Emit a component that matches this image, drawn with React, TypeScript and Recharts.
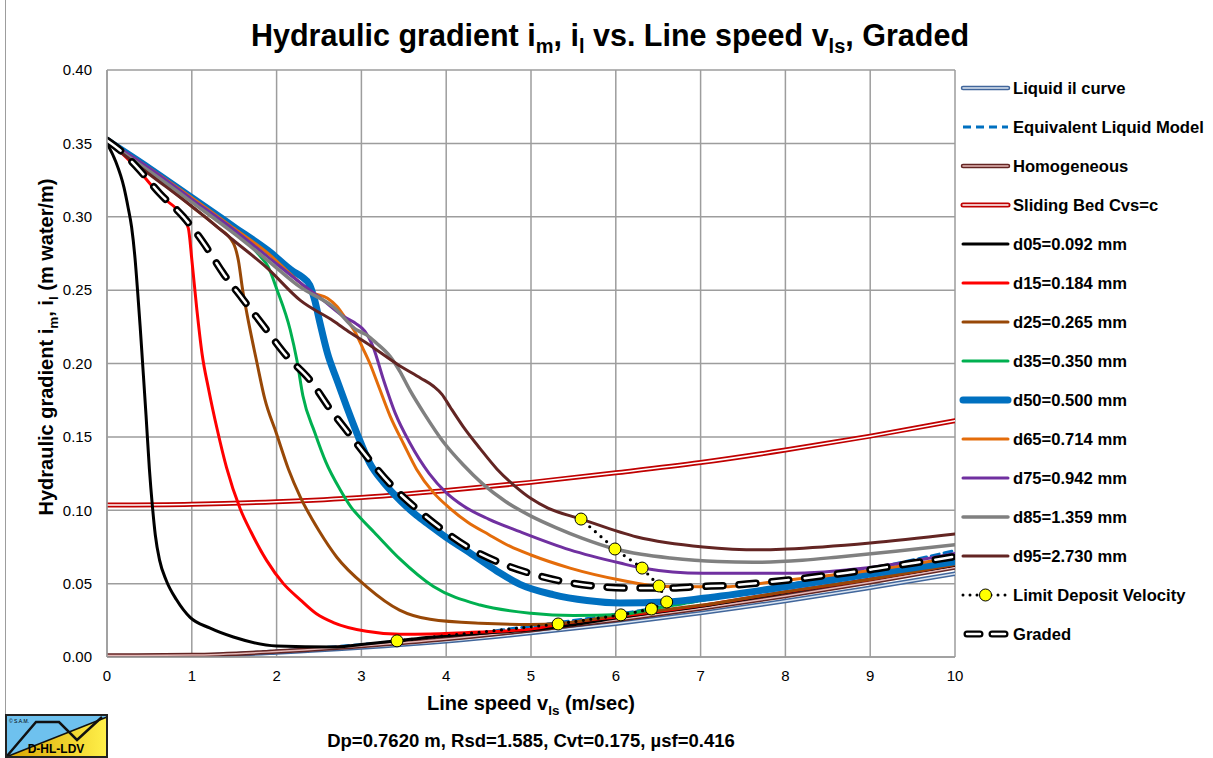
import React from 'react';
import { LineChart, Line, XAxis, YAxis, CartesianGrid } from 'recharts';

type P = [number, number];

const xTicks = [0, 1, 2, 3, 4, 5, 6, 7, 8, 9, 10];
const yTicks = [0, 0.05, 0.1, 0.15, 0.2, 0.25, 0.3, 0.35, 0.4];

const liquid: P[] = [[0,0.0005],[1,0.0009],[2,0.0031],[3,0.0065],[4,0.0108],[5,0.0163],[6,0.0227],[7,0.0299],[8,0.0381],[9,0.0472],[10,0.0567]];
const elm: P[] = [[0,0.0006],[1,0.0012],[2,0.0041],[3,0.0085],[4,0.0138],[5,0.021],[6,0.029],[7,0.0384],[8,0.0488],[9,0.060],[10,0.0725]];
const homogeneous: P[] = [[0,0.001],[1,0.0013],[2,0.0037],[3,0.0075],[4,0.0122],[5,0.0183],[6,0.0252],[7,0.033],[8,0.0415],[9,0.051],[10,0.061]];
const slidingBed: P[] = [[0,0.1035],[1,0.1041],[2,0.1058],[3,0.1087],[4,0.1135],[5,0.119],[6,0.1255],[7,0.1325],[8,0.141],[9,0.1505],[10,0.161]];

const d05: P[] = [[0,0.35],[0.1,0.338],[0.2,0.32],[0.25,0.306],[0.29,0.293],[0.33,0.272],[0.36,0.25],[0.39,0.226],[0.42,0.2],[0.46,0.165],[0.5,0.128],[0.535,0.103],[0.57,0.083],[0.62,0.066],[0.7,0.052],[0.82,0.039],[0.98,0.027],[1.21,0.0198],[1.49,0.0136],[2.0,0.0075],[2.67,0.0068],[3.0,0.0085],[3.42,0.011],[3.81,0.0135],[4.4,0.016],[5.0,0.0185],[5.5,0.022],[6.06,0.027],[7,0.0345],[8,0.044],[9,0.053],[10,0.0625]];
const d15: P[] = [[0,0.351],[0.15,0.3445],[0.35,0.333],[0.62,0.315],[0.9,0.299],[0.96,0.292],[1.0,0.271],[1.06,0.2365],[1.12,0.207],[1.2,0.182],[1.3,0.155],[1.41,0.129],[1.57,0.101],[1.7,0.085],[1.88,0.066],[2.08,0.05],[2.28,0.039],[2.47,0.0295],[2.67,0.0235],[3.06,0.0175],[3.45,0.0155],[3.81,0.0157],[4.4,0.017],[5.0,0.019],[5.32,0.0222],[6.06,0.0278],[7,0.035],[8,0.0445],[9,0.053],[10,0.063]];
const d25: P[] = [[0,0.351],[0.5,0.33],[1.0,0.307],[1.3,0.293],[1.49,0.282],[1.55,0.27],[1.6,0.25],[1.65,0.234],[1.77,0.2],[1.86,0.176],[2.0,0.152],[2.14,0.128],[2.28,0.109],[2.5,0.086],[2.71,0.068],[3.06,0.048],[3.45,0.032],[3.81,0.0257],[4.4,0.023],[5.0,0.0222],[5.32,0.0228],[6.06,0.0287],[7,0.0352],[8,0.0445],[9,0.053],[10,0.063]];
const d35: P[] = [[0,0.352],[0.5,0.332],[1.0,0.312],[1.5,0.291],[1.8,0.2735],[1.9,0.266],[2.0,0.251],[2.16,0.223],[2.24,0.202],[2.31,0.178],[2.45,0.153],[2.58,0.133],[2.75,0.114],[2.88,0.102],[3.0,0.094],[3.15,0.085],[3.45,0.067],[3.85,0.048],[4.4,0.0354],[5.0,0.0298],[5.5,0.0283],[6.07,0.029],[6.42,0.0327],[7,0.0385],[8,0.047],[9,0.0565],[10,0.065]];
const d50: P[] = [[0,0.352],[0.5,0.333],[1.0,0.313],[1.5,0.293],[1.9,0.277],[2.2,0.2625],[2.3,0.259],[2.39,0.2535],[2.45,0.243],[2.51,0.228],[2.6,0.207],[2.71,0.189],[2.83,0.17],[2.95,0.152],[3.1,0.132],[3.26,0.119],[3.4,0.11],[3.65,0.0965],[3.8,0.09],[4.0,0.0815],[4.24,0.0725],[4.6,0.0585],[4.87,0.0495],[5.26,0.0425],[5.66,0.0385],[6.05,0.0368],[6.6,0.0375],[7.03,0.04],[8.02,0.048],[9.0,0.0565],[10,0.065]];
const d65: P[] = [[0,0.352],[0.5,0.333],[1.0,0.313],[1.5,0.292],[1.9,0.275],[2.2,0.259],[2.43,0.248],[2.6,0.2445],[2.71,0.239],[2.8,0.232],[2.92,0.222],[3.02,0.21],[3.1,0.2],[3.2,0.185],[3.34,0.164],[3.5,0.145],[3.65,0.128],[3.85,0.112],[4.04,0.1015],[4.25,0.092],[4.5,0.0835],[4.75,0.0755],[5.0,0.0695],[5.46,0.0606],[6.05,0.0525],[6.56,0.048],[7.23,0.0478],[8.02,0.0525],[9.0,0.059],[10,0.068]];
const d75: P[] = [[0,0.352],[0.5,0.333],[1.0,0.312],[1.5,0.291],[1.89,0.273],[2.28,0.255],[2.55,0.243],[2.79,0.232],[2.94,0.227],[3.04,0.222],[3.14,0.211],[3.26,0.189],[3.4,0.166],[3.57,0.146],[3.8,0.125],[4.0,0.112],[4.2,0.103],[4.5,0.094],[4.87,0.0854],[5.46,0.073],[6.05,0.064],[6.31,0.0606],[7.03,0.057],[8.02,0.057],[9.0,0.061],[10,0.0705]];
const d85: P[] = [[0,0.351],[0.5,0.331],[1.0,0.31],[1.49,0.289],[1.89,0.2705],[2.28,0.252],[2.67,0.2385],[2.94,0.223],[3.06,0.2195],[3.18,0.2138],[3.34,0.2047],[3.45,0.195],[3.57,0.182],[3.75,0.165],[3.96,0.147],[4.2,0.131],[4.43,0.118],[4.7,0.106],[5.0,0.096],[5.3,0.088],[5.6,0.081],[5.99,0.0736],[6.3,0.07],[6.64,0.0675],[7.2,0.065],[7.62,0.0645],[8.2,0.066],[8.6,0.068],[9.3,0.072],[10,0.0765]];
const d95: P[] = [[0,0.351],[0.5,0.329],[1.1,0.3025],[1.49,0.284],[1.89,0.265],[2.28,0.243],[2.67,0.229],[2.87,0.221],[3.06,0.214],[3.45,0.1985],[3.7,0.19],[3.85,0.1845],[3.95,0.179],[4.05,0.17],[4.2,0.157],[4.4,0.142],[4.6,0.128],[4.8,0.117],[5.0,0.108],[5.2,0.1015],[5.59,0.094],[6.25,0.0818],[7.03,0.075],[7.7,0.073],[8.02,0.0736],[9.0,0.0777],[10,0.0838]];
const ldv: P[] = [[3.42,0.011],[5.32,0.0225],[6.06,0.0287],[6.42,0.0327],[6.6,0.0375],[6.51,0.0484],[6.31,0.0606],[5.99,0.0736],[5.59,0.094]];
const graded: P[] = [[0,0.352],[0.15,0.3455],[0.35,0.334],[0.62,0.316],[0.9,0.3],[1.14,0.282],[1.37,0.2615],[1.6,0.244],[1.84,0.226],[2.12,0.205],[2.39,0.189],[2.63,0.169],[2.87,0.151],[3.1,0.134],[3.37,0.116],[3.65,0.101],[3.96,0.0865],[4.28,0.074],[4.6,0.065],[4.99,0.057],[5.42,0.051],[5.81,0.048],[6.2,0.047],[6.6,0.047],[6.99,0.048],[7.38,0.049],[7.78,0.051],[8.21,0.0536],[8.6,0.0565],[9.0,0.0595],[9.39,0.063],[9.79,0.0665],[10,0.0685]];

const legendLabels = [
  'Liquid il curve', 'Equivalent Liquid Model', 'Homogeneous', 'Sliding Bed Cvs=c',
  'd05=0.092 mm', 'd15=0.184 mm', 'd25=0.265 mm', 'd35=0.350 mm', 'd50=0.500 mm',
  'd65=0.714 mm', 'd75=0.942 mm', 'd85=1.359 mm', 'd95=2.730 mm',
  'Limit Deposit Velocity', 'Graded',
];

const FONT = '"Liberation Sans", Arial, Helvetica, sans-serif';

const pts = (a: P[]) => a.map(([x, y]) => ({ x, y }));

type S = { key: string; data: P[]; stroke: string; w: number; dash?: string; inner?: string; innerW?: number };

const series: S[] = [
  { key: 'liq', data: liquid, stroke: '#41669b', w: 4.5, inner: '#dbe5f1', innerW: 1.5 },
  { key: 'elm', data: elm, stroke: '#0070c0', w: 3, dash: '8 5' },
  { key: 'hom', data: homogeneous, stroke: '#632523', w: 4.5, inner: '#e6b9b8', innerW: 1.5 },
  { key: 'sb', data: slidingBed, stroke: '#c00000', w: 5, inner: '#ffffff', innerW: 1.5 },
  { key: 'd05', data: d05, stroke: '#000000', w: 3 },
  { key: 'd15', data: d15, stroke: '#ff0000', w: 3 },
  { key: 'd25', data: d25, stroke: '#984807', w: 3 },
  { key: 'd35', data: d35, stroke: '#00b050', w: 3 },
  { key: 'd50', data: d50, stroke: '#0070c0', w: 7 },
  { key: 'd65', data: d65, stroke: '#e46c0a', w: 3 },
  { key: 'd75', data: d75, stroke: '#7030a0', w: 3 },
  { key: 'd85', data: d85, stroke: '#808080', w: 3.5 },
  { key: 'd95', data: d95, stroke: '#632523', w: 3 },
];

const LdvDot = (p: any) => (
  <circle key={'ldv' + p.index} cx={p.cx} cy={p.cy} r={6} fill="#ffff00" stroke="#000" strokeWidth={1} />
);

function LegendSample({ i, y }: { i: number; y: number }) {
  const x1 = 963, x2 = 1008;
  if (i < 13) {
    const s = series[i];
    return (
      <g>
        <line x1={x1} y1={y} x2={x2} y2={y} stroke={s.stroke} strokeWidth={s.w} strokeDasharray={s.dash} strokeLinecap={s.dash ? 'butt' : 'round'} />
        {s.inner && <line x1={x1} y1={y} x2={x2} y2={y} stroke={s.inner} strokeWidth={s.innerW} strokeLinecap="round" />}
      </g>
    );
  }
  if (i === 13) {
    return (
      <g>
        <line x1={x1} y1={y} x2={x2} y2={y} stroke="#000" strokeWidth={3} strokeDasharray="0 7" strokeLinecap="round" />
        <circle cx={(x1 + x2) / 2} cy={y} r={6} fill="#ffff00" stroke="#000" strokeWidth={1} />
      </g>
    );
  }
  return (
    <g>
      <line x1={967} y1={y} x2={1005} y2={y} stroke="#000" strokeWidth={7} strokeDasharray="13 12" strokeLinecap="round" />
      <line x1={967} y1={y} x2={1005} y2={y} stroke="#fff" strokeWidth={2.5} strokeDasharray="13 12" strokeLinecap="round" />
    </g>
  );
}

export default function App() {
  return (
    <div style={{ position: 'absolute', left: 0, top: 0, width: 1213, height: 758, background: '#fff', fontFamily: FONT }}>
      <LineChart width={1213} height={758} margin={{ top: 70, right: 258, bottom: 71, left: 0 }}>
        <CartesianGrid stroke="#9d9d9d" strokeWidth={1.5} />
        <XAxis
          dataKey="x"
          type="number"
          domain={[0, 10]}
          ticks={xTicks}
          allowDataOverflow
          height={30}
          tickLine={false}
          tickSize={0}
          tickMargin={13}
          axisLine={{ stroke: '#9d9d9d', strokeWidth: 1.5 }}
          tick={{ fill: '#000', fontSize: 15, fontFamily: FONT }}
        />
        <YAxis
          type="number"
          domain={[0, 0.4]}
          ticks={yTicks}
          allowDataOverflow
          width={107}
          tickLine={false}
          tickSize={0}
          tickMargin={15}
          tickFormatter={(v: number) => v.toFixed(2)}
          axisLine={{ stroke: '#9d9d9d', strokeWidth: 1.5 }}
          tick={{ fill: '#000', fontSize: 15, fontFamily: FONT }}
        />
        {series.flatMap((s) => {
          const out = [
            <Line key={s.key} data={pts(s.data)} dataKey="y" type="monotone" stroke={s.stroke} strokeWidth={s.w}
              strokeDasharray={s.dash} strokeLinecap="round" strokeLinejoin="round" dot={false} activeDot={false} isAnimationActive={false} />,
          ];
          if (s.inner) {
            out.push(
              <Line key={s.key + '-in'} data={pts(s.data)} dataKey="y" type="monotone" stroke={s.inner} strokeWidth={s.innerW}
                strokeLinecap="round" dot={false} activeDot={false} isAnimationActive={false} />
            );
          }
          return out;
        })}
        <Line key="graded-o" data={pts(graded)} dataKey="y" type="monotone" stroke="#000" strokeWidth={7.5}
          strokeDasharray="17 16" strokeLinecap="round" dot={false} activeDot={false} isAnimationActive={false} />
        <Line key="graded-i" data={pts(graded)} dataKey="y" type="monotone" stroke="#fff" strokeWidth={2.5}
          strokeDasharray="17 16" strokeLinecap="round" dot={false} activeDot={false} isAnimationActive={false} />
        <Line key="ldv" data={pts(ldv)} dataKey="y" type="linear" stroke="#000" strokeWidth={3.2}
          strokeDasharray="0 7.5" strokeLinecap="round" dot={LdvDot} activeDot={false} isAnimationActive={false} />
      </LineChart>

      <svg width={1213} height={758} style={{ position: 'absolute', left: 0, top: 0, pointerEvents: 'none' }} fontFamily={FONT}>
        <line x1={5.5} y1={0} x2={5.5} y2={714} stroke="#9d9d9d" strokeWidth={1} />
        <text x={610} y={46} textAnchor="middle" fontSize={30.5} fontWeight="bold" fill="#000">
          Hydraulic gradient i<tspan fontSize={20} dy={7}>m</tspan><tspan dy={-7}>, i</tspan><tspan fontSize={20} dy={7}>l</tspan><tspan dy={-7}> vs. Line speed v</tspan><tspan fontSize={20} dy={7}>ls</tspan><tspan dy={-7}>, Graded</tspan>
        </text>
        <text x={531} y={710} textAnchor="middle" fontSize={20} fontWeight="bold" fill="#000">
          Line speed v<tspan fontSize={13.5} dy={5}>ls</tspan><tspan dy={-5}> (m/sec)</tspan>
        </text>
        <g transform="translate(53,347) rotate(-90)">
          <text x={0} y={0} textAnchor="middle" fontSize={20} fontWeight="bold" fill="#000">
            Hydraulic gradient i<tspan fontSize={13.5} dy={5}>m</tspan><tspan dy={-5}>, i</tspan><tspan fontSize={13.5} dy={5}>l</tspan><tspan dy={-5}> (m water/m)</tspan>
          </text>
        </g>
        <text x={531} y={747} textAnchor="middle" fontSize={18.5} fontWeight="bold" fill="#000">
          Dp=0.7620 m, Rsd=1.585, Cvt=0.175, µsf=0.416
        </text>
        {legendLabels.map((lab, i) => {
          const y = 88 + 39 * i;
          return (
            <g key={lab}>
              <LegendSample i={i} y={y} />
              <text x={1013} y={y + 6} fontSize={16.6} fontWeight="bold" fill="#000">{lab}</text>
            </g>
          );
        })}
        <defs>
          <linearGradient id="logoY" x1="0" y1="0" x2="1" y2="0">
            <stop offset="0" stopColor="#d9a400" />
            <stop offset="1" stopColor="#fff04a" />
          </linearGradient>
        </defs>
        <g>
          <rect x={6} y={715} width={101} height={42} fill="url(#logoY)" />
          <polygon points="6,715 107,715 107,717 6,757" fill="#6ec1ee" />
          <line x1={6} y1={757} x2={107} y2={717} stroke="#111" strokeWidth={1.5} />
          <polyline points="7,756 36,722 59,722 77,740 102,717" fill="none" stroke="#111" strokeWidth={2.5} />
          <rect x={6} y={715} width={101} height={42} fill="none" stroke="#222" strokeWidth={2} />
          <text x={9} y={723} fontSize={5} fill="#000">© S.A.M.</text>
          <text x={56} y={753} textAnchor="middle" fontSize={12} fontWeight="bold" fill="#000">D-HL-LDV</text>
        </g>
      </svg>
    </div>
  );
}
